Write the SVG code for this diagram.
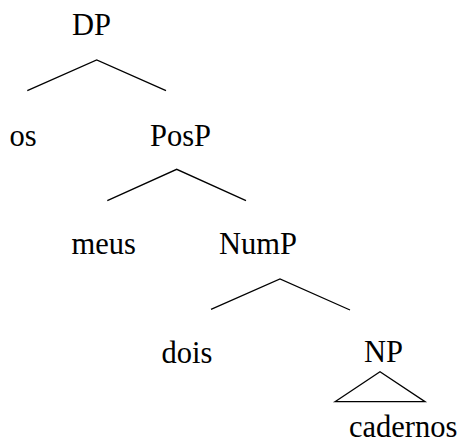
<svg xmlns="http://www.w3.org/2000/svg" width="464" height="443" viewBox="0 0 464 443">
<style>
text{font-family:'Liberation Serif','Times New Roman',Times,serif;font-size:30.5px;fill:#000}
.e{stroke:#000;stroke-width:1.3;fill:none;stroke-linecap:butt}
</style>
<rect width="464" height="443" fill="#fff"/>
<g id="connectors">
<polyline class="e" points="27.3,90.7 96.7,60 166,90.7"/>
<polyline class="e" points="107.3,200.7 176.7,169.3 246,200.7"/>
<polyline class="e" points="211,309.3 280,279 350,310"/>
<polygon class="e" points="335,401.7 380,371.7 425,401.7"/>
</g>
<g font-family="Liberation Serif, serif">
<g id="DP"><text x="72" y="35">DP</text></g>
<g id="os"><text x="9.5" y="146">os</text></g>
<g id="PosP"><text x="150" y="146">PosP</text></g>
<g id="meus"><text x="71.5" y="254">meus</text></g>
<g id="NumP"><text x="219" y="254">NumP</text></g>
<g id="dois"><text x="161.5" y="363">dois</text></g>
<g id="NP"><text x="364" y="362">NP</text></g>
<g id="cadernos"><text x="349" y="436.5">cadernos</text></g>
</g>
</svg>
